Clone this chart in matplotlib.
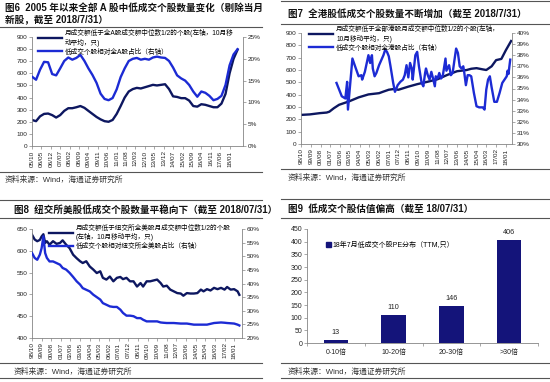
import matplotlib
matplotlib.use('Agg')
import matplotlib.pyplot as plt
import numpy as np
import pandas as pd
from matplotlib.lines import Line2D
from matplotlib.patches import Patch
from matplotlib.ticker import FuncFormatter, MultipleLocator

plt.rcParams['font.family'] = ['Liberation Sans', 'Noto Sans CJK SC']

# 图6 全部A股（季度读数）
a_dates = pd.date_range('2005-10-01', periods=52, freq='3MS')
a_cnt = [215, 205, 245, 265, 268, 255, 235, 255, 290, 312,
         312, 320, 330, 315, 290, 265, 240, 220, 205, 200,
         215, 265, 330, 400, 450, 470, 480, 475, 485, 495,
         505, 500, 505, 510, 470, 410, 405, 395, 395, 375,
         330, 325, 345, 340, 330, 320, 320, 350, 430, 600,
         720, 795]
a_pct = [15.9, 15.2, 17.5, 19.3, 19.2, 16.5, 16.2, 17.8, 19.5, 20.3,
         19.8, 20.2, 20.9, 19.5, 17.8, 16.3, 14.5, 12.0, 10.8, 10.5,
         11.0, 13.0, 15.8, 17.8, 19.5, 20.0, 20.2, 19.8, 20.0, 19.8,
         20.3, 20.5, 20.3, 20.2, 19.5, 18.0, 16.2, 15.5, 15.0, 14.0,
         12.5, 11.3, 12.5, 12.2, 11.5, 10.5, 10.8, 11.5, 14.0, 18.5,
         21.0, 22.2]

# 图7 港股
hk_cnt_dates = ['1998-10', '1999-08', '2000-07', '2001-03', '2001-06', '2001-11', '2002-05',
                '2003-04', '2004-03', '2005-02', '2006-02', '2006-07', '2007-01', '2007-06',
                '2007-12', '2008-11', '2009-09', '2010-09', '2011-08', '2012-07', '2013-06',
                '2014-05', '2014-10', '2015-04', '2015-11', '2016-03', '2016-09', '2017-02',
                '2017-08', '2018-01', '2018-07']
hk_cnt = [236, 240, 250, 255, 262, 290, 318, 345, 378, 402,
          412, 425, 440, 445, 440, 465, 485, 505, 525, 560,
          590, 600, 610, 615, 605, 600, 630, 680, 690, 760,
          835]
hk_pct_dates = ['2002-02', '2002-08', '2002-12', '2003-02', '2003-03', '2003-08', '2003-11',
                '2004-03', '2004-06', '2004-07', '2004-10', '2005-02', '2005-04', '2005-06',
                '2005-07', '2005-09', '2005-11', '2006-02', '2006-07', '2006-09', '2006-11',
                '2007-01', '2007-03', '2007-06', '2007-08', '2007-11', '2008-02', '2008-05',
                '2008-07', '2008-09', '2008-11', '2009-01', '2009-03', '2009-04', '2009-07',
                '2009-09', '2009-11', '2010-02', '2010-04', '2010-06', '2010-07', '2010-09',
                '2010-11', '2011-01', '2011-03', '2011-05', '2011-06', '2011-08', '2011-10',
                '2011-12', '2012-02', '2012-05', '2012-06', '2012-09', '2012-11', '2013-01',
                '2013-03', '2013-05', '2013-07', '2013-09', '2013-11', '2014-01', '2014-02',
                '2014-04', '2014-06', '2014-08', '2014-10', '2015-01', '2015-04', '2015-07',
                '2015-11', '2016-01', '2016-03', '2016-05', '2016-07', '2016-09', '2016-12',
                '2017-03', '2017-06', '2017-09', '2018-02', '2018-03', '2018-04', '2018-06']
hk_pct = [35.5, 34.3, 34.1, 35.6, 33.1, 37.7, 37.0, 36.1, 36.2, 35.8,
          36.5, 38.0, 37.3, 38.0, 36.8, 36.1, 36.4, 37.1, 38.0, 38.5,
          38.3, 37.9, 37.0, 35.5, 34.7, 35.3, 35.6, 35.8, 36.2, 37.1,
          36.0, 37.3, 36.8, 35.8, 38.0, 38.3, 37.0, 35.5, 35.2, 36.4,
          36.8, 36.2, 35.8, 36.5, 35.9, 35.2, 36.1, 35.9, 36.4, 35.9,
          36.2, 37.7, 36.6, 37.1, 36.2, 36.4, 37.5, 38.6, 38.2, 37.0,
          36.8, 37.0, 36.5, 35.3, 36.2, 36.2, 36.1, 34.6, 33.4, 33.3,
          33.3, 33.1, 34.9, 35.8, 36.1, 35.1, 33.8, 33.8, 34.6, 35.5,
          36.1, 36.6, 36.3, 37.6]

# 图8 纽交所
ny_dates = ['1998-10', '1999-01', '1999-04', '1999-07', '1999-09', '1999-11', '2000-01', '2000-03',
            '2000-06', '2000-10', '2001-02', '2001-06', '2001-09', '2002-01', '2002-05', '2002-09',
            '2003-01', '2003-05', '2003-08', '2003-12', '2004-04', '2004-08', '2004-12', '2005-04',
            '2005-07', '2005-11', '2006-03', '2006-07', '2006-11', '2007-03', '2007-06', '2007-10',
            '2008-02', '2008-06', '2008-10', '2009-02', '2009-05', '2009-09', '2010-01', '2010-05',
            '2010-09', '2011-01', '2011-04', '2011-08', '2011-12', '2012-04', '2012-08', '2012-12',
            '2013-03', '2013-07', '2013-11', '2014-03', '2014-07', '2014-11', '2015-02', '2015-06',
            '2015-10', '2016-02', '2016-06', '2016-10', '2017-02', '2017-05', '2017-09', '2018-01',
            '2018-05', '2018-07']
ny_cnt = [637, 626, 622, 625, 633, 638, 618, 622, 614, 622,
          616, 618, 624, 614, 606, 591, 583, 576, 572, 576,
          564, 557, 549, 553, 538, 534, 541, 530, 538, 540,
          535, 538, 530, 530, 518, 526, 518, 530, 530, 532,
          534, 526, 518, 520, 511, 507, 503, 502, 497, 503,
          502, 502, 503, 511, 507, 512, 509, 515, 512, 515,
          511, 517, 511, 512, 507, 499]
ny_pct = [51.2, 49.4, 48.7, 50.6, 53.0, 57.3, 51.2, 49.4, 48.1, 48.1,
          47.5, 46.9, 45.7, 45.1, 43.9, 42.4, 40.8, 39.6, 38.3, 37.7,
          37.1, 35.9, 35.0, 34.1, 32.8, 32.2, 31.6, 31.4, 31.4, 30.4,
          29.2, 28.2, 28.2, 28.0, 27.3, 27.3, 26.7, 26.1, 26.1, 26.1,
          26.1, 25.7, 25.6, 25.5, 25.5, 25.5, 25.4, 25.3, 25.3, 25.3,
          25.1, 24.9, 24.9, 24.9, 24.9, 24.9, 25.2, 25.5, 25.6, 25.7,
          25.6, 25.5, 25.4, 25.3, 24.9, 24.6]

# 图9 PE分布
pe_bins = ['0-10倍', '10-20倍', '20-30倍', '>30倍']
pe_cnt = [13, 110, 146, 406]

W, H = 550, 382
DARK = '#0d1760'
BLUE = '#1c2bd4'
BAR = '#14147a'
GRAY = '#858585'
TXT = '#222222'

fig = plt.figure(figsize=(W / 100, H / 100), dpi=100)


def rect(l, t, r, b):
    return [l / W, 1 - b / H, (r - l) / W, (b - t) / H]


def hline(y, x0, x1, lw=0.8, color='#555555'):
    fig.add_artist(Line2D([x0 / W, x1 / W], [1 - y / H] * 2, color=color, lw=lw))


def ftext(x, y, s, **kw):
    fig.text(x / W, 1 - y / H, s, va='center', ha='left', **kw)


pct_fmt = FuncFormatter(lambda v, p: f'{v:.0f}%')


def dual_axes(box, xstart, xend, tick_end, step, ylim, yl_step, pct_lim, pct_step):
    ax = fig.add_axes(rect(*box))
    ax2 = ax.twinx()
    ax.set_xlim(pd.Timestamp(xstart), pd.Timestamp(xend))
    ticks = pd.date_range(xstart, tick_end, freq=f'{step}MS')
    ax.set_xticks(ticks)
    ax.set_xticklabels([t.strftime('%y/%m') for t in ticks], rotation=90, fontsize=4.3, color=TXT)
    ax.set_ylim(*ylim)
    ax.yaxis.set_major_locator(MultipleLocator(yl_step))
    ax2.set_ylim(*pct_lim)
    ax2.yaxis.set_major_locator(MultipleLocator(pct_step))
    ax2.yaxis.set_major_formatter(pct_fmt)
    for a in (ax, ax2):
        for s in a.spines.values():
            s.set_visible(False)
        a.tick_params(length=2, width=0.5, color=GRAY, labelsize=4.6, pad=1.2, labelcolor=TXT)
    for s in ('left', 'bottom'):
        ax.spines[s].set_visible(True)
        ax.spines[s].set_color(GRAY)
        ax.spines[s].set_linewidth(0.6)
    ax2.spines['right'].set_visible(True)
    ax2.spines['right'].set_color(GRAY)
    ax2.spines['right'].set_linewidth(0.6)
    return ax, ax2


def add_legend(ax2, l1, l2, t1, t2, anchor):
    ax2.legend([l1, l2], [t1, t2], loc='upper left', bbox_to_anchor=anchor, frameon=False,
               fontsize=4.8, handlelength=3.6, handletextpad=0.4, labelspacing=0.3,
               borderaxespad=0, borderpad=0)


# ---------- 图6 ----------
ftext(5, 8, '图6  2005 年以来全部 A 股中低成交个股数量变化（剔除当月', fontsize=6.9, fontweight='bold', color='#111111')
ftext(5, 20, '新股，截至 2018/7/31）', fontsize=6.9, fontweight='bold', color='#111111')
hline(27, 0, 262)
ax, ax2 = dual_axes((32, 37, 243, 146), '2005-10-01', '2018-11-01', '2018-07-01', 7,
                    (0, 900), 100, (0, 25), 5)
l1, = ax.plot(a_dates, a_cnt, color=DARK, lw=1.7)
l2, = ax2.plot(a_dates, a_pct, color=BLUE, lw=1.7)
add_legend(ax2, l1, l2, '月成交额低于全A股成交额中位数1/2的个股(左轴，10月移\n动平均，只)',
           '低成交个股相对全A股占比（右轴）', (0.03, 1.07))
hline(172, 0, 262)
ftext(5, 180, '资料来源：Wind，海通证券研究所', fontsize=5.6, color='#333333')

# ---------- 图7 ----------
hline(1, 281, 550)
ftext(288, 14, '图7  全港股低成交个股数量不断增加（截至 2018/7/31）', fontsize=6.9, fontweight='bold', color='#111111')
hline(24, 281, 550)
ax, ax2 = dual_axes((301, 33, 512, 144), '1998-10-01', '2018-08-01', '2018-07-01', 11,
                    (0, 900), 100, (30, 40), 1)
l1, = ax.plot(pd.to_datetime(hk_cnt_dates), hk_cnt, color=DARK, lw=1.7)
l2, = ax2.plot(pd.to_datetime(hk_pct_dates), hk_pct, color=BLUE, lw=1.7)
add_legend(ax2, l1, l2, '月成交额低于全部港股月成交额中位数1/2的个股(左轴，\n10月移动平均，只)',
           '低成交个股相对全港股占比（右轴）', (0.04, 1.07))
hline(169, 281, 550)
ftext(288, 178, '资料来源：Wind，海通证券研究所', fontsize=5.6, color='#333333')

# ---------- 图8 ----------
hline(200, 0, 262)
ftext(14, 210, '图8  纽交所美股低成交个股数量平稳向下（截至 2018/07/31）', fontsize=6.9, fontweight='bold', color='#111111')
hline(218, 0, 262)
ax, ax2 = dual_axes((32, 229, 242, 338), '1998-10-01', '2018-10-01', '2018-07-01', 11,
                    (400, 650), 50, (20, 60), 5)
l1, = ax.plot(pd.to_datetime(ny_dates), ny_cnt, color=DARK, lw=1.7)
l2, = ax2.plot(pd.to_datetime(ny_dates), ny_pct, color=BLUE, lw=1.7)
add_legend(ax2, l1, l2, '月成交额低于纽交所全美股月成交额中位数1/2的个股\n(左轴，10月移动平均，只)',
           '低成交个股相对纽交所全美股占比（右轴）', (0.08, 1.04))
hline(363, 0, 262)
ftext(14, 372, '资料来源：Wind，海通证券研究所', fontsize=5.6, color='#333333')
hline(378, 0, 262)

# ---------- 图9 ----------
hline(199, 281, 550)
ftext(288, 209, '图9  低成交个股估值偏高（截至 18/07/31）', fontsize=6.9, fontweight='bold', color='#111111')
hline(218, 281, 550)
ax = fig.add_axes(rect(307, 229, 538, 343))
x = np.arange(len(pe_cnt))
ax.bar(x, pe_cnt, width=0.42, color=BAR)
for xi, v in zip(x, pe_cnt):
    ax.text(xi, v + 30, str(v), ha='center', va='center', fontsize=5.2, color=TXT)
ax.set_xlim(-0.5, len(pe_cnt) - 0.5)
ax.set_ylim(0, 450)
ax.yaxis.set_major_locator(MultipleLocator(50))
ax.set_xticks(x)
ax.set_xticklabels(pe_bins, fontsize=5.0, color=TXT)
ax.set_xticks(np.arange(len(pe_cnt) + 1) - 0.5, minor=True)
ax.tick_params(axis='x', which='major', length=0, pad=4)
ax.tick_params(axis='x', which='minor', length=2, width=0.5, color=GRAY)
ax.tick_params(axis='y', length=2, width=0.5, color=GRAY, labelsize=5.0, pad=1.2, labelcolor=TXT)
for s in ('top', 'right'):
    ax.spines[s].set_visible(False)
for s in ('left', 'bottom'):
    ax.spines[s].set_color(GRAY)
    ax.spines[s].set_linewidth(0.6)
ax.legend([Patch(color=BAR)], ['18年7月低成交个股PE分布（TTM,只）'], loc='center left',
          bbox_to_anchor=(0.07, 0.86), frameon=False, fontsize=5.0,
          handlelength=0.7, handleheight=0.7, handletextpad=0.3, borderaxespad=0)
hline(363, 281, 550)
ftext(288, 372, '资料来源：Wind，海通证券研究所', fontsize=5.6, color='#333333')
hline(378, 281, 550)

fig.savefig('out.png', dpi=100)
